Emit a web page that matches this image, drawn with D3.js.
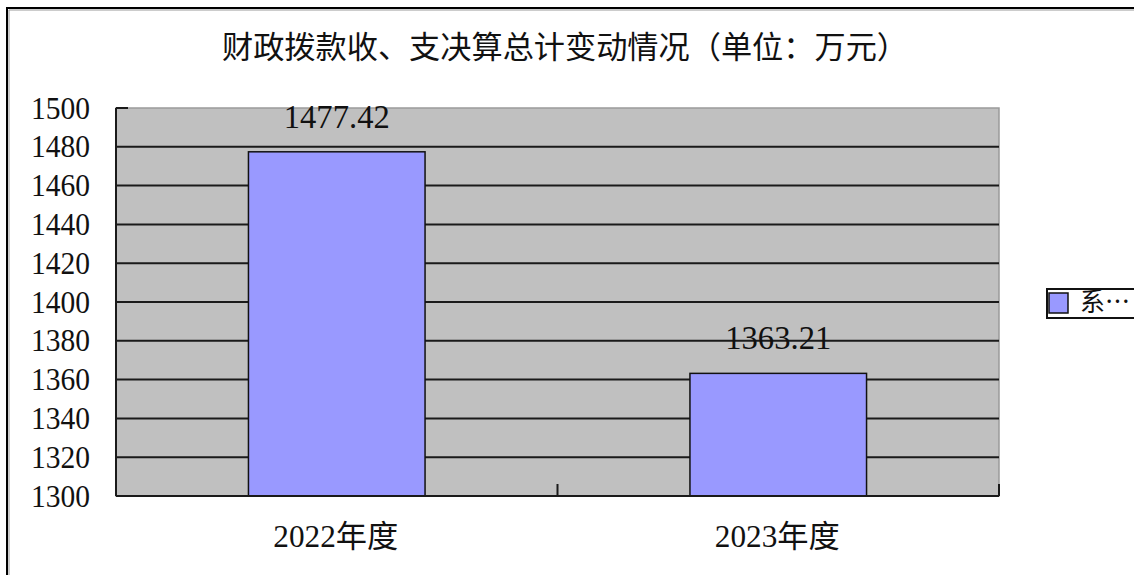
<!DOCTYPE html>
<html>
<head>
<meta charset="utf-8">
<script src="https://cdn.jsdelivr.net/npm/d3@7"></script>
<style>
html,body{margin:0;padding:0;background:#fff;}
svg{display:block;}
</style>
</head>
<body>
<svg id="chart" width="1134" height="575"></svg>
<script>
const title = "财政拨款收、支决算总计变动情况（单位：万元）";
const categories = ["2022年度", "2023年度"];
const values = [1477.42, 1363.21];
const valueLabels = ["1477.42", "1363.21"];
const yTicks = [1300, 1320, 1340, 1360, 1380, 1400, 1420, 1440, 1460, 1480, 1500];
const seriesName = "系…";

const svg = d3.select("#chart");
const W = 1134, H = 575;
const plot = {left: 116, top: 108, right: 999, bottom: 496};
const numFont = "'Liberation Serif','Noto Sans CJK SC',serif";
const cjkFont = "'Noto Sans CJK SC',sans-serif";

svg.append("rect").attr("width", W).attr("height", H).attr("fill", "#fff");

// outer chart border
svg.append("rect").attr("x", 7).attr("y", 8).attr("width", W + 20).attr("height", H + 20)
  .attr("fill", "none").attr("stroke", "#000").attr("stroke-width", 2);
svg.append("path").attr("d", `M9,${H+10}V10H${W+10}`).attr("fill", "none").attr("stroke", "#999").attr("stroke-width", 1);

const x = d3.scaleBand().domain(categories).range([plot.left, plot.right]).padding(0);
const y = d3.scaleLinear().domain([1300, 1500]).range([plot.bottom, plot.top]);

// plot area
svg.append("rect").attr("x", plot.left).attr("y", plot.top)
  .attr("width", plot.right - plot.left).attr("height", plot.bottom - plot.top)
  .attr("fill", "#c0c0c0").attr("stroke", "#9a9a9a").attr("stroke-width", 1.5);

// gridlines
svg.append("g").selectAll("line").data(yTicks.filter(t => t > 1300 && t < 1500)).join("line")
  .attr("x1", plot.left).attr("x2", plot.right)
  .attr("y1", d => y(d)).attr("y2", d => y(d))
  .attr("stroke", "#1a1a1a").attr("stroke-width", 2);

// top tick at 1500
svg.append("line").attr("x1", plot.left).attr("x2", plot.left + 12)
  .attr("y1", y(1500)).attr("y2", y(1500)).attr("stroke", "#1a1a1a").attr("stroke-width", 2);

// bars
const barW = x.bandwidth() * 0.4;
svg.append("g").selectAll("rect").data(values).join("rect")
  .attr("x", (d, i) => x(categories[i]) + x.bandwidth() / 2 - barW / 2)
  .attr("y", d => y(d))
  .attr("width", barW)
  .attr("height", d => y(1300) - y(d))
  .attr("fill", "#9999ff").attr("stroke", "#111").attr("stroke-width", 1.5);

// axes lines
svg.append("line").attr("x1", plot.left).attr("x2", plot.left).attr("y1", plot.top).attr("y2", plot.bottom)
  .attr("stroke", "#1a1a1a").attr("stroke-width", 2);
svg.append("line").attr("x1", plot.left).attr("x2", plot.right).attr("y1", plot.bottom).attr("y2", plot.bottom)
  .attr("stroke", "#1a1a1a").attr("stroke-width", 2);
// x tick marks (inside)
const xTickPos = [plot.left, ...categories.map(c => x(c) + x.bandwidth())];
svg.append("g").selectAll("line").data(xTickPos).join("line")
  .attr("x1", d => d).attr("x2", d => d).attr("y1", plot.bottom).attr("y2", plot.bottom - 12)
  .attr("stroke", "#1a1a1a").attr("stroke-width", 2);

// y tick labels
svg.append("g").selectAll("text").data(yTicks).join("text")
  .attr("x", 90).attr("y", d => y(d) + 10.5)
  .attr("text-anchor", "end")
  .attr("font-family", numFont).attr("font-size", 32)
  .attr("textLength", 59).attr("lengthAdjust", "spacingAndGlyphs")
  .attr("fill", "#111")
  .text(d => d);

// category labels
svg.append("g").selectAll("text").data(categories).join("text")
  .attr("x", d => x(d) + x.bandwidth() / 2 - 1)
  .attr("y", 547)
  .attr("text-anchor", "middle")
  .attr("font-family", numFont).attr("font-size", 31)
  .attr("textLength", 125).attr("lengthAdjust", "spacingAndGlyphs")
  .attr("fill", "#111")
  .text(d => d);

// value labels
svg.append("g").selectAll("text").data(values).join("text")
  .attr("x", (d, i) => x(categories[i]) + x.bandwidth() / 2)
  .attr("y", d => y(d) - 24)
  .attr("text-anchor", "middle")
  .attr("font-family", numFont).attr("font-size", 33)
  .attr("textLength", 106).attr("lengthAdjust", "spacingAndGlyphs")
  .attr("fill", "#111")
  .text((d, i) => valueLabels[i]);

// title
svg.append("text").attr("x", 222).attr("y", 58)
  .attr("font-family", cjkFont).attr("font-size", 31)
  .attr("textLength", 686).attr("lengthAdjust", "spacingAndGlyphs")
  .attr("fill", "#111")
  .text(title);

// legend
svg.append("rect").attr("x", 1047).attr("y", 289).attr("width", 120).attr("height", 29)
  .attr("fill", "#fff").attr("stroke", "#111").attr("stroke-width", 2);
svg.append("rect").attr("x", 1049).attr("y", 293).attr("width", 19).attr("height", 20)
  .attr("fill", "#9999ff").attr("stroke", "#111").attr("stroke-width", 1.5);
svg.append("text").attr("x", 1080).attr("y", 311)
  .attr("font-family", cjkFont).attr("font-size", 26)
  .attr("textLength", 50).attr("lengthAdjust", "spacingAndGlyphs")
  .attr("fill", "#111")
  .text(seriesName);
</script>
</body>
</html>
